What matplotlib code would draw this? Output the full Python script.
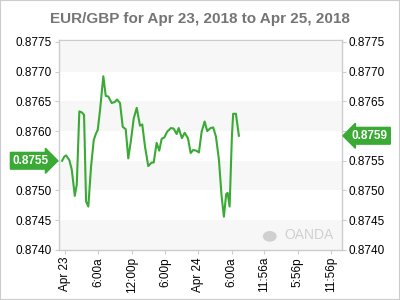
import matplotlib
matplotlib.use("Agg")
import matplotlib.pyplot as plt
from matplotlib.patches import Rectangle

# hours since Apr 23 00:00 and EUR/GBP rate
hours = [-0.54, -0.13, 0.18, 0.77, 1.21, 1.75, 2.11, 2.57, 3.06, 3.42,
         3.78, 4.19, 4.68, 5.17, 5.58, 5.89, 6.30, 6.89, 7.33, 7.79,
         8.41, 9.00, 9.36, 9.90, 10.39, 10.93, 11.39, 11.88, 12.37, 12.91,
         13.50, 13.91, 14.40, 14.99, 15.60, 15.97, 16.50, 16.97, 17.41, 17.87,
         18.41, 19.08, 19.57, 20.10, 20.47, 21.06, 21.55, 22.14, 22.63, 23.09,
         23.63, 24.12, 24.61, 25.15, 25.61, 26.23, 26.69, 27.18, 27.72, 28.21,
         28.62, 29.03, 29.29, 29.65, 30.06, 30.29, 30.78, 31.32]
rates = [0.87550, 0.87557, 0.87559, 0.87551, 0.87535, 0.87491, 0.87510, 0.87633, 0.87631, 0.87627,
         0.87482, 0.87473, 0.87540, 0.87585, 0.87596, 0.87602, 0.87635, 0.87692, 0.87659, 0.87658,
         0.87647, 0.87649, 0.87653, 0.87647, 0.87607, 0.87603, 0.87554, 0.87585, 0.87621, 0.87639,
         0.87609, 0.87611, 0.87574, 0.87541, 0.87547, 0.87547, 0.87580, 0.87567, 0.87587, 0.87589,
         0.87599, 0.87605, 0.87604, 0.87595, 0.87605, 0.87588, 0.87597, 0.87588, 0.87563, 0.87568,
         0.87567, 0.87564, 0.87599, 0.87616, 0.87600, 0.87605, 0.87606, 0.87591, 0.87552, 0.87490,
         0.87456, 0.87494, 0.87496, 0.87473, 0.87591, 0.87629, 0.87629, 0.87592]

tick_hours = [0, 6, 12, 18, 24, 30, 35.93, 41.93, 47.93]
tick_labels = ["Apr 23", "6:00a", "12:00p", "6:00p", "Apr 24", "6:00a", "11:56a", "5:56p", "11:56p"]
y_ticks = [0.8740, 0.8745, 0.8750, 0.8755, 0.8760, 0.8765, 0.8770, 0.8775]

open_label = "0.8755"
last_label = "0.8759"

green = "#3aaa35"
frame = "#cccccc"

plt.rcParams['font.family'] = ['Liberation Sans', 'DejaVu Sans']

fig = plt.figure(figsize=(4, 3), dpi=100)
ax = fig.add_axes([0.147, 0.1667, 0.708, 0.7])

# alternating bands
for i in range(0, len(y_ticks) - 1, 2):
    ax.axhspan(y_ticks[i], y_ticks[i + 1], color="#f7f7f7", zorder=0, lw=0)

ax.plot(hours, rates, color=green, lw=1.5, zorder=3)

ax.set_xlim(-1.13, 49.9)
ax.set_ylim(0.8740, 0.87753)
ax.set_yticks(y_ticks)
ax.set_yticklabels(["%.4f" % v for v in y_ticks])
ax.set_xticks(tick_hours)
ax.set_xticklabels(tick_labels, rotation=90)
ax.tick_params(axis="y", which="both", left=True, right=True, labelleft=True, labelright=True,
               length=3, color=frame, labelsize=8.5, pad=2)
ax.tick_params(axis="x", length=3, color=frame, labelsize=8.5, pad=2)
for s in ax.spines.values():
    s.set_color(frame)
    s.set_linewidth(1)

# left tick label under the open tag is hidden by it anyway
for t in ax.yaxis.get_major_ticks():
    if abs(t.get_loc() - rates[0]) < 0.0001:
        t.label1.set_visible(False)

ax.set_title("EUR/GBP for Apr 23, 2018 to Apr 25, 2018", fontsize=11, fontweight="bold",
             color="#757575", pad=12)

# open / last value tags
tr = ax.get_yaxis_transform()
ax.text(-0.035, rates[0], open_label, transform=tr, ha="right", va="center", color="white",
        fontsize=8.5, fontweight="bold", zorder=5, clip_on=False,
        bbox=dict(boxstyle="rarrow,pad=0.2", fc=green, ec=green))
ax.text(1.035, rates[-1], last_label, transform=tr, ha="left", va="center", color="white",
        fontsize=8.5, fontweight="bold", zorder=5, clip_on=False,
        bbox=dict(boxstyle="larrow,pad=0.2", fc=green, ec=green))

# watermark
ax.text(0.97, 0.04, "OANDA", transform=ax.transAxes, ha="right", va="bottom",
        color="#d0d0d0", fontsize=10, zorder=1)
ax.add_patch(plt.Circle((0.745, 0.065), 0.022, transform=ax.transAxes, color="#d0d0d0",
                        zorder=1))

fig.add_artist(Rectangle((0, 0), 1, 1, transform=fig.transFigure, fill=False,
                         ec=frame, lw=1.5))

fig.savefig("out.png", dpi=100)
